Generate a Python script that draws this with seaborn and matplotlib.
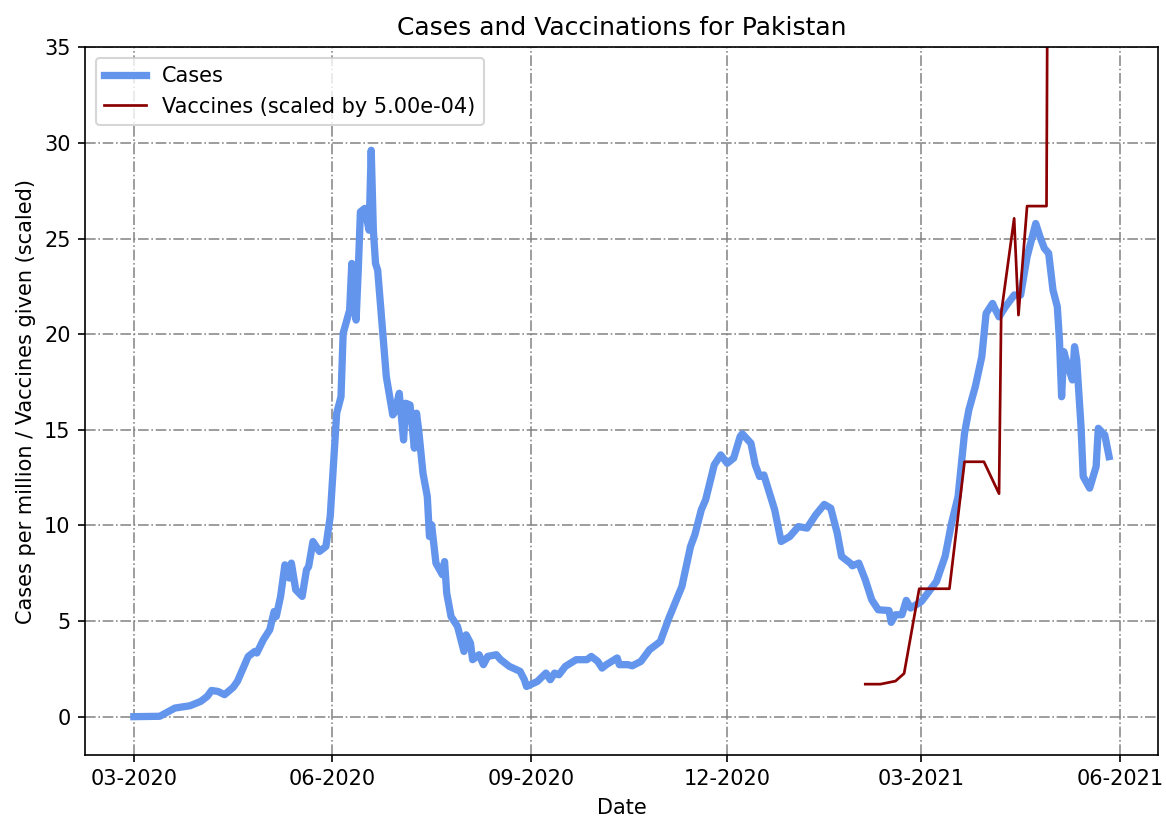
import pandas as pd
import numpy as np
import matplotlib
matplotlib.use("Agg")
import matplotlib.pyplot as plt
import matplotlib.dates as mdates
import seaborn as sns

# --- Data ---
start_date = "2020-03-01"

# days since start_date, daily cases per million
case_days = [0, 12, 19, 26, 31, 34, 36, 39, 42, 46, 48, 50, 53, 56, 57, 60, 63, 65, 66, 68,
             70, 72, 73, 75, 78, 80, 81, 83, 86, 89, 91, 94, 96, 97, 100, 101, 102, 103, 104, 105,
             107, 109, 110, 111, 112, 113, 117, 120, 121, 123, 125, 126, 128, 130, 131, 132, 134, 136, 137, 138,
             140, 143, 144, 145, 147, 150, 153, 154, 156, 157, 160, 162, 164, 168, 170, 174, 179, 181, 182, 187,
             191, 193, 195, 197, 200, 205, 210, 212, 215, 217, 219, 224, 225, 229, 231, 235, 239, 244, 248, 254,
             258, 260, 263, 265, 269, 272, 275, 278, 281, 282, 286, 288, 290, 292, 297, 300, 304, 308, 312, 316,
             320, 323, 326, 328, 332, 333, 336, 339, 342, 345, 350, 351, 353, 356, 358, 360, 365, 372, 376, 379,
             382, 385, 387, 390, 393, 395, 398, 399, 401, 404, 408, 411, 414, 418, 420, 422, 424, 426, 428, 429,
             430, 431, 433, 435, 436, 437, 439, 440, 443, 446, 447, 450, 452]
cases = [0.0, 0.02, 0.45, 0.57, 0.80, 1.06, 1.37, 1.32, 1.15, 1.53, 1.85, 2.37, 3.15, 3.41, 3.33, 4.02, 4.55, 5.50, 5.24, 6.29,
         7.94, 7.25, 8.03, 6.64, 6.29, 7.68, 7.85, 9.16, 8.64, 8.90, 10.47, 15.87, 16.73, 20.05, 21.26, 23.70, 21.61, 20.74, 23.35, 26.40,
         26.58, 25.44, 29.62, 25.44, 23.70, 23.35, 17.78, 15.78, 15.95, 16.91, 14.47, 16.39, 16.30, 14.04, 15.87, 15.00, 12.73, 11.51, 9.42, 10.03,
         8.03, 7.42, 8.11, 6.46, 5.24, 4.72, 3.41, 4.28, 3.85, 2.98, 3.24, 2.72, 3.15, 3.24, 2.98, 2.63, 2.37, 1.93, 1.58, 1.84,
         2.28, 1.93, 2.28, 2.19, 2.63, 2.98, 2.98, 3.15, 2.89, 2.54, 2.72, 3.07, 2.72, 2.72, 2.66, 2.89, 3.50, 3.93, 5.16, 6.81,
         8.90, 9.51, 10.82, 11.34, 13.17, 13.69, 13.25, 13.52, 14.65, 14.79, 14.30, 13.17, 12.56, 12.64, 10.82, 9.16, 9.42, 9.94, 9.86, 10.55,
         11.10, 10.90, 9.60, 8.38, 8.03, 7.89, 8.03, 7.16, 6.11, 5.59, 5.55, 4.93, 5.33, 5.33, 6.08, 5.68, 6.02, 7.07, 8.38, 10.12,
         11.51, 14.82, 16.04, 17.26, 18.82, 21.09, 21.61, 21.35, 20.91, 21.44, 22.05, 22.05, 24.05, 25.79, 25.09, 24.49, 24.23, 22.31, 21.44, 19.70,
         16.73, 19.09, 18.30, 17.61, 19.35, 18.65, 15.17, 12.56, 11.95, 13.08, 15.08, 14.73, 13.60]

# days since start_date, vaccines given (unscaled)
vacc_days = [339, 346, 353, 357, 364, 378, 385, 394, 401, 402, 408, 410, 414, 423, 424]
vaccines = [3400, 3400, 3720, 4520, 13380, 13380, 26660, 26660, 23320, 42200, 52120, 42000, 53400, 53400, 106800]
vacc_scale = 5e-4

df_cases = pd.DataFrame({
    "date": pd.to_datetime(start_date) + pd.to_timedelta(case_days, unit="D"),
    "value": cases,
})
df_vacc = pd.DataFrame({
    "date": pd.to_datetime(start_date) + pd.to_timedelta(vacc_days, unit="D"),
    "value": np.array(vaccines) * vacc_scale,
})

# --- Plot ---
DPI = 150
fig, ax = plt.subplots(figsize=(1166 / DPI, 817 / DPI), dpi=DPI)
fig.subplots_adjust(left=0.073, right=0.993, top=0.942, bottom=0.076)

sns.lineplot(data=df_cases, x="date", y="value", ax=ax, color="cornflowerblue",
             linewidth=3.5, label="Cases")
sns.lineplot(data=df_vacc, x="date", y="value", ax=ax, color="darkred",
             linewidth=1.3, label=f"Vaccines (scaled by {vacc_scale:.2e})")

ax.set_ylim(-2, 35)
ax.xaxis.set_major_locator(mdates.MonthLocator(bymonth=[3, 6, 9, 12]))
ax.xaxis.set_major_formatter(mdates.DateFormatter("%m-%Y"))
ax.grid(True, linestyle="-.", color="gray", linewidth=0.8, alpha=0.9)

ax.set_title("Cases and Vaccinations for Pakistan")
ax.set_xlabel("Date")
ax.set_ylabel("Cases per million / Vaccines given (scaled)")
ax.legend(loc="upper left")

plt.savefig("out.png", dpi=DPI)
